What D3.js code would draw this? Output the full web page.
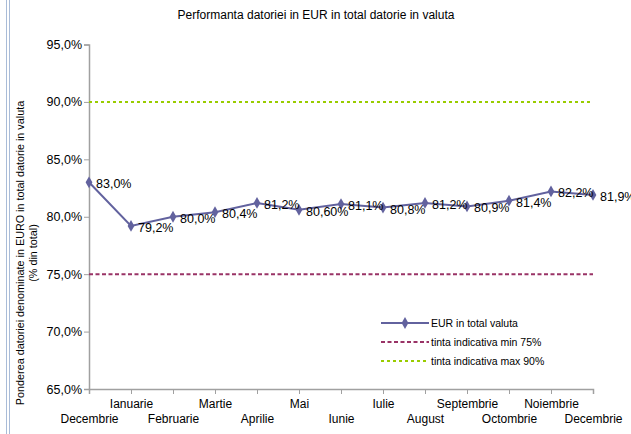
<!DOCTYPE html>
<html lang="en">
<head>
<meta charset="utf-8">
<title>Performanta datoriei in EUR</title>
<script src="https://d3js.org/d3.v7.min.js"></script>
<style type="text/css">
  body { margin: 0; background: #fff; }
  text { font-family: "Liberation Sans", Arial, sans-serif; fill: #000; }
</style>
</head>
<body>
<script type="text/javascript">
// data
var months = ["Decembrie", "Ianuarie", "Februarie", "Martie", "Aprilie", "Mai", "Iunie",
              "Iulie", "August", "Septembrie", "Octombrie", "Noiembrie", "Decembrie"];
var eurShare = [83.0, 79.2, 80.0, 80.4, 81.2, 80.6, 81.1, 80.8, 81.2, 80.9, 81.4, 82.2, 81.9];
var pointLabels = ["83,0%", "79,2%", "80,0%", "80,4%", "81,2%", "80,60%", "81,1%",
                   "80,8%", "81,2%", "80,9%", "81,4%", "82,2%", "81,9%"];
var minTarget = 75;
var maxTarget = 90;
var yTicks = [65, 70, 75, 80, 85, 90, 95];
var legendNames = ["EUR in total valuta", "tinta indicativa min 75%", "tinta indicativa max 90%"];

var width = 631, height = 434;
var plot = {left: 89, right: 593, top: 44.5, bottom: 389};

var svg = d3.select("body").append("svg")
  .attr("width", width)
  .attr("height", height);

// left frame lines
svg.append("line").attr("x1", 6.5).attr("x2", 6.5).attr("y1", 0).attr("y2", height)
  .style("stroke", "#a9bcd8").style("stroke-width", 1);
svg.append("line").attr("x1", 9.5).attr("x2", 9.5).attr("y1", 0).attr("y2", height)
  .style("stroke", "#a9bcd8").style("stroke-width", 1);

var x = d3.scalePoint()
  .domain(d3.range(months.length))
  .range([plot.left, plot.right]);

var y = d3.scaleLinear()
  .domain([65, 95])
  .range([plot.bottom, plot.top]);

// title
svg.append("text")
  .attr("x", 316).attr("y", 19)
  .attr("text-anchor", "middle")
  .style("font-size", "12px")
  .text("Performanta datoriei in EUR in total datorie in valuta");

// y axis
var yAxis = d3.axisLeft(y)
  .tickValues(yTicks)
  .tickSize(5)
  .tickFormat(function(d) { return d.toFixed(1).replace(".", ",") + "%"; });

var gy = svg.append("g")
  .attr("transform", "translate(" + plot.left + ",0)")
  .call(yAxis);
gy.select(".domain").style("stroke", "#a0a0a0").style("stroke-width", 1.5);
gy.selectAll(".tick line").style("stroke", "#a0a0a0");
gy.selectAll(".tick text")
  .attr("x", -7)
  .style("font-size", "12.5px")
  .style("font-family", "'Liberation Sans', Arial, sans-serif");

// x axis
var xAxis = d3.axisBottom(x)
  .tickSize(5)
  .tickFormat(function(i) { return months[i]; });

var gx = svg.append("g")
  .attr("transform", "translate(0," + plot.bottom + ")")
  .call(xAxis);
gx.select(".domain").style("stroke", "#a0a0a0").style("stroke-width", 1.5);
gx.selectAll(".tick line").style("stroke", "#a0a0a0");
gx.selectAll(".tick text")
  .attr("y", function(i) { return i % 2 === 1 ? 10 : 25; })
  .attr("dy", "0.71em")
  .style("font-size", "12px")
  .style("font-family", "'Liberation Sans', Arial, sans-serif");

// y axis title
var yTitle = svg.append("text")
  .attr("transform", "translate(24," + 253 + ") rotate(-90)")
  .attr("text-anchor", "middle")
  .style("font-size", "10.8px");
yTitle.append("tspan").attr("x", 0).attr("dy", 0)
  .text("Ponderea datoriei denominate in EURO in total datorie in valuta");
yTitle.append("tspan").attr("x", 0).attr("dy", 13)
  .text("(% din total)");

// target lines
svg.append("line")
  .attr("x1", plot.left).attr("x2", plot.right)
  .attr("y1", y(maxTarget)).attr("y2", y(maxTarget))
  .style("stroke", "#99cc00").style("stroke-width", 2)
  .style("stroke-dasharray", "3,3");

svg.append("line")
  .attr("x1", plot.left).attr("x2", plot.right)
  .attr("y1", y(minTarget)).attr("y2", y(minTarget))
  .style("stroke", "#993366").style("stroke-width", 2)
  .style("stroke-dasharray", "4,2.5");

// EUR share line
var line = d3.line()
  .x(function(d, i) { return x(i); })
  .y(function(d) { return y(d); });

svg.append("path")
  .datum(eurShare)
  .attr("d", line)
  .style("fill", "none")
  .style("stroke", "#62629e")
  .style("stroke-width", 2);

var diamond = d3.symbol().type(d3.symbolDiamond).size(40);

svg.selectAll(".pt")
  .data(eurShare)
  .enter()
  .append("path")
  .attr("class", "pt")
  .attr("d", diamond)
  .attr("transform", function(d, i) { return "translate(" + x(i) + "," + y(d) + ")"; })
  .style("fill", "#62629e");

svg.selectAll(".lbl")
  .data(eurShare)
  .enter()
  .append("text")
  .attr("class", "lbl")
  .attr("x", function(d, i) { return x(i) + 7; })
  .attr("y", function(d) { return y(d) + 6; })
  .style("font-size", "12.5px")
  .text(function(d, i) { return pointLabels[i]; });

// legend
var legend = svg.append("g").attr("transform", "translate(381,323)");
var legendColors = ["#62629e", "#993366", "#99cc00"];
var legendDash = [null, "4,2.5", "3,3"];

legendNames.forEach(function(name, i) {
  var row = legend.append("g").attr("transform", "translate(0," + (i * 19) + ")");
  row.append("line")
    .attr("x1", 0).attr("x2", 48)
    .style("stroke", legendColors[i])
    .style("stroke-width", 2)
    .style("stroke-dasharray", legendDash[i]);
  if (i === 0) {
    row.append("path").attr("d", diamond).attr("transform", "translate(24,0)")
      .style("fill", legendColors[i]);
  }
  row.append("text")
    .attr("x", 50).attr("y", 3.5)
    .style("font-size", "10.5px")
    .text(name);
});
</script>
</body>
</html>
